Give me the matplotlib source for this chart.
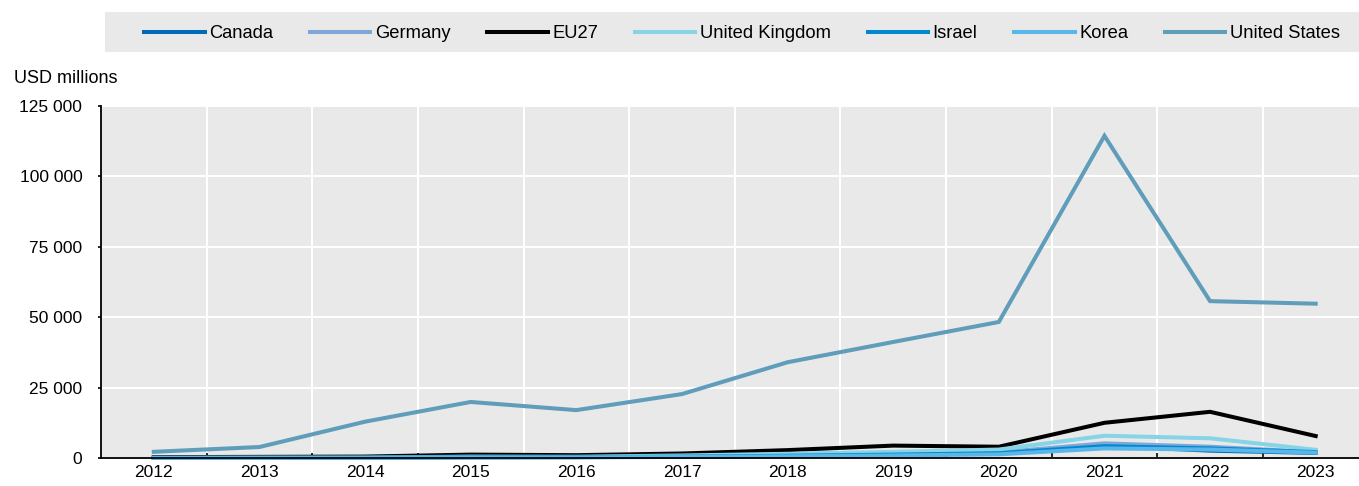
import matplotlib.pyplot as plt
from matplotlib.patches import Rectangle
from matplotlib.ticker import FuncFormatter, FixedLocator

plt.rcParams['font.family'] = ['Liberation Sans', 'DejaVu Sans']

years = [2012, 2013, 2014, 2015, 2016, 2017, 2018, 2019, 2020, 2021, 2022, 2023]

canada = [50, 80, 100, 300, 350, 600, 900, 1300, 1800, 4300, 2600, 1800]
germany = [60, 100, 120, 400, 350, 700, 1000, 1400, 2000, 5200, 4000, 2100]
eu27 = [300, 400, 500, 1200, 1000, 1600, 2800, 4400, 4000, 12500, 16400, 7800]
uk = [80, 120, 150, 500, 450, 900, 1500, 2200, 3000, 7900, 7000, 2900]
israel = [40, 60, 80, 250, 300, 500, 800, 1200, 1700, 4200, 3400, 2100]
korea = [30, 50, 60, 150, 200, 400, 600, 900, 1300, 3400, 3000, 1900]
us = [2200, 3900, 12900, 19900, 17000, 22700, 34000, 41200, 48300, 114400, 55700, 54800]

names = ['Canada', 'Germany', 'EU27', 'United Kingdom', 'Israel', 'Korea', 'United States']
series = [canada, germany, eu27, uk, israel, korea, us]
colors = ['#006BB6', '#7FA8D9', '#000000', '#86D4E6', '#0088D1', '#58B7E8', '#5F9DBA']

fig = plt.figure(figsize=(13.59, 4.86), dpi=100)
W, H = 1359, 486
ax = fig.add_axes([101 / W, 28 / H, (W - 101) / W, 352 / H])
ax.set_facecolor('#e9e9e9')

x = list(range(len(years)))
for vals, name, c in zip(series, names, colors):
    ax.plot(x, vals, color=c, lw=2.9, label=name, solid_joinstyle='miter', clip_on=False)

ax.set_xlim(-0.5, 11.41)
ax.set_ylim(0, 125000)
ax.set_xticks(x)
ax.set_xticklabels([str(y) for y in years])
ax.xaxis.set_minor_locator(FixedLocator([i + 0.5 for i in range(11)]))
ax.tick_params(axis='x', which='major', length=0, labelsize=12.5, pad=5)
ax.tick_params(axis='x', which='minor', direction='in', length=3.5, width=1.2, color='black')
ax.set_yticks(range(0, 125001, 25000))
ax.yaxis.set_major_formatter(FuncFormatter(lambda v, p: f'{int(v):,}'.replace(',', ' ')))
ax.tick_params(axis='y', direction='out', length=2.5, width=1.2, labelsize=12.5, pad=11)

ax.grid(axis='y', color='white', lw=1.5)
ax.grid(axis='x', which='minor', color='white', lw=1.5)
ax.set_axisbelow(True)
for s in ['top', 'right']:
    ax.spines[s].set_visible(False)
ax.spines['left'].set_linewidth(1.3)
ax.spines['bottom'].set_linewidth(1.3)

fig.text(14 / W, 1 - 78 / H, 'USD millions', fontsize=13, va='center', ha='left')

fig.patches.append(Rectangle((105 / W, 1 - 52 / H), (W - 105) / W, 40 / H,
                             transform=fig.transFigure, facecolor='#e9e9e9',
                             edgecolor='none', zorder=0))
fig.legend(loc='center', bbox_to_anchor=(742 / W, 1 - 34 / H), ncol=7, frameon=False,
           fontsize=13.2, handlelength=3.3, handletextpad=0.25, columnspacing=2.0)

fig.savefig('out.png', dpi=100)
